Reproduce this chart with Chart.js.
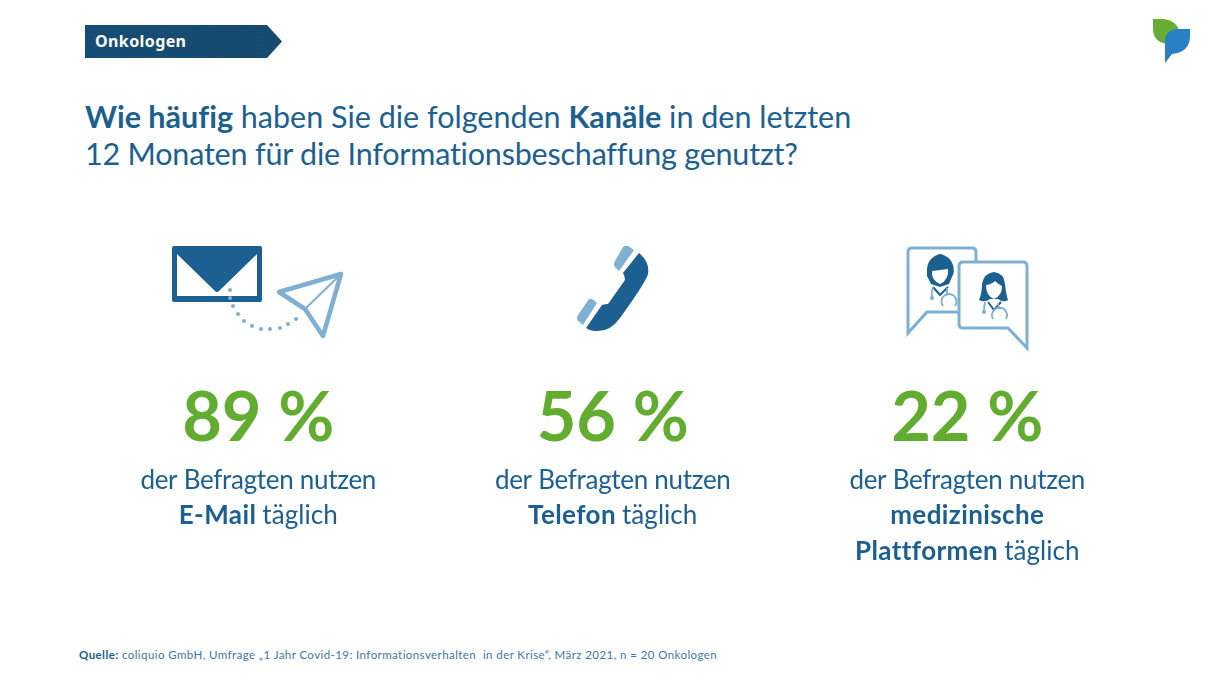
<!DOCTYPE html>
<html lang="de">
<head>
<meta charset="utf-8">
<title>Onkologen</title>
<script src="https://cdn.jsdelivr.net/npm/chart.js@4/dist/chart.umd.min.js"></script>
<style>
    html, body { margin: 0; padding: 0; background: #fff; }
    .page { position: relative; width: 1210px; height: 680px; overflow: hidden; font-family: Lato, sans-serif; color: #1c6092; font-variant-ligatures: none; }
    .page svg, .page canvas { position: absolute; left: 0; top: 0; }
    .tag { position: absolute; left: 95px; top: 30px; font: 700 16px/23px "Noto Sans", sans-serif; letter-spacing: .4px; color: #fff; }
    .title { position: absolute; left: 85px; top: 98px; font-size: 30.500px; line-height: 37px; white-space: nowrap; }
    .title span { letter-spacing: -.2px; }
    .source { position: absolute; left: 79px; top: 647px; font-size: 11.500px; line-height: 16px; letter-spacing: .42px; white-space: pre; color: #3b78aa; }
    .source b { color: #1c6092; }
</style>
</head>
<body>
<div class="page">
    <svg width="1210" height="680" viewBox="0 0 1210 680">
        <defs>
            <linearGradient id="tagFill" x1="0" x2="1" y1="0" y2="0">
                <stop offset="0" stop-color="#164d76"/>
                <stop offset="1" stop-color="#174a6e"/>
            </linearGradient>
        </defs>
        <!-- tag -->
        <path d="M85 25H267L282 41.500L267 58H85Z" fill="url(#tagFill)"/>
        <!-- logo -->
        <path d="M1153 19H1164Q1177 21 1179 31L1166 44Q1153 41 1153 29Z" fill="#68ad33"/>
        <path d="M1190 29H1176Q1165 31 1165 41V63L1172 54Q1190 52 1190 36Z" fill="#2a80c4"/>
        <!-- mail -->
        <path fill-rule="evenodd" d="M174 246H260Q262 246 262 248V300Q262 302 260 302H174Q172 302 172 300V248Q172 246 174 246ZM177 254V296H257V254L219 291Q217 293 215 291Z" fill="#1c6092"/>
        <g fill="#7fb0d4">
            <circle cx="230" cy="290" r="2"/><circle cx="230" cy="298" r="2"/><circle cx="233" cy="306" r="2"/>
            <circle cx="238" cy="314" r="2"/><circle cx="244" cy="321" r="2"/><circle cx="252" cy="326" r="2"/>
            <circle cx="261" cy="329" r="2"/><circle cx="270" cy="329" r="2"/><circle cx="280" cy="328" r="2"/>
            <circle cx="288" cy="324" r="2"/><circle cx="296" cy="319" r="2"/>
        </g>
        <path d="M279 292L341 274L323 336L305 309Z" fill="none" stroke="#7fb0d4" stroke-width="4.500" stroke-linejoin="round"/>
        <path d="M305 309L341 274" fill="none" stroke="#7fb0d4" stroke-width="2"/>
        <!-- phone -->
        <path d="M639 253Q650 262 648 274Q646 282 620 318Q610 332 596 331Q590 331 586 328L602 305Q605 304 608 304L625 280Q625 276 623 273Z" fill="#1c6092"/>
        <path d="M634 250L628 246Q625 245 623 247L615 261Q613 265 615 267L619 271Z" fill="#7fb0d4"/>
        <path d="M597 303L592 299Q589 298 587 302L578 315Q576 318 578 321L583 325Z" fill="#7fb0d4"/>
        <!-- chat -->
        <path d="M912 248H972Q976 248 976 252V312H927L908 333V252Q908 248 912 248Z" fill="#fff" stroke="#7fb0d4" stroke-width="3"/>
        <path d="M963 262H1023Q1027 262 1027 266V348L1008 328H963Q959 328 959 324V266Q959 262 963 262Z" fill="#fff" stroke="#7fb0d4" stroke-width="3"/>
        <!-- doctor left -->
        <path d="M940 254Q950 256 953 265Q955 272 952 277L949 284L940 287L931 284L927 276Q926 264 931 259Q935 255 940 254Z" fill="#1c6092"/>
        <path d="M932 271Q940 270 948 269Q949 280 940 284Q931 280 932 271Z" fill="#fff"/>
        <path d="M933 287L940 295L948 287" fill="none" stroke="#1c6092" stroke-width="2"/>
        <path d="M933 287Q931 292 932 297M947 288V294M943 306A7.500 7.500 0 1 1 955 306" fill="none" stroke="#7fb0d4" stroke-width="1.800"/>
        <circle cx="932" cy="298" r="2" fill="#7fb0d4"/>
        <!-- doctor right -->
        <path d="M994 272Q1004 273 1005 284Q1006 294 1008 300Q1003 303 998 299H990Q985 303 979 300Q982 293 982 284Q984 273 994 272Z" fill="#1c6092"/>
        <path d="M986 285Q992 284 995 281Q999 285 1002 286Q1002 296 994 299Q986 296 986 285Z" fill="#fff"/>
        <path d="M988 302L994 310L1001 302" fill="none" stroke="#1c6092" stroke-width="2"/>
        <path d="M985 302Q984 307 984 311M998 303L999 309M993 319A7.500 7.500 0 1 1 1006 319" fill="none" stroke="#7fb0d4" stroke-width="1.800"/>
        <circle cx="984" cy="312" r="2" fill="#7fb0d4"/>
    </svg>

    <div class="tag">Onkologen</div>
    <div class="title"><b>Wie häufig</b> haben Sie die folgenden <b>Kanäle</b> in den letzten<br><span>12 Monaten für die Informationsbeschaffung genutzt?</span></div>
    <div class="source"><b>Quelle:</b> coliquio GmbH, Umfrage „1 Jahr Covid-19: Informationsverhalten  in der Krise“, März 2021, n = 20 Onkologen</div>

    <canvas id="myChart" width="1210" height="680"></canvas>
</div>

<script>
const channels = ['E-Mail', 'Telefon', 'medizinische Plattformen'];
const shares = [89, 56, 22];
const captionLead = 'der Befragten nutzen';
const captionKeys = [['E-Mail'], ['Telefon'], ['medizinische', 'Plattformen']];
const captionTail = 'täglich';

const blue = '#1c6092';
const green = '#62ac30';
const fontName = 'Lato, sans-serif';

// one centred line, bold part first then the normal part
function drawRuns(ctx, x, y, bold, normal) {
    const boldFont = '700 26px ' + fontName;
    const normalFont = '400 26px ' + fontName;
    // small spacing also switches off the Lato ligatures
    ctx.letterSpacing = '0.4px';
    ctx.font = boldFont;
    const boldW = bold ? ctx.measureText(bold).width : 0;
    const gap = bold && normal ? 6 : 0;
    ctx.letterSpacing = bold ? '0.05px' : '-0.3px';
    ctx.font = normalFont;
    const normalW = normal ? ctx.measureText(normal).width : 0;
    let left = x - (boldW + gap + normalW) / 2;
    ctx.textAlign = 'left';
    ctx.fillStyle = blue;
    if (bold) {
        ctx.letterSpacing = '0.4px';
        ctx.font = boldFont;
        ctx.fillText(bold, left, y);
        left += boldW + gap;
    }
    if (normal) {
        ctx.letterSpacing = bold ? '0.05px' : '-0.3px';
        ctx.font = normalFont;
        ctx.fillText(normal, left, y);
    }
    ctx.letterSpacing = '0px';
}

// the three figures and their captions, placed on the category scale
const figureLabels = {
    id: 'figureLabels',
    afterDatasetsDraw(chart) {
        const ctx = chart.ctx;
        const meta = chart.getDatasetMeta(0);
        ctx.save();
        ctx.textBaseline = 'alphabetic';
        shares.forEach((share, i) => {
            const x = meta.data[i].x;
            ctx.textAlign = 'center';
            ctx.fillStyle = green;
            ctx.font = '700 68.5px ' + fontName;
            ctx.fillText(share + ' %', x, 441);
            drawRuns(ctx, x, 489, '', captionLead);
            const keys = captionKeys[i];
            keys.forEach((key, k) => {
                const last = k === keys.length - 1;
                drawRuns(ctx, x, 524 + k * 35.500, key, last ? captionTail : '');
            });
        });
        ctx.restore();
    }
};

const myChart = new Chart(document.getElementById('myChart'), {
    type: 'bar',
    data: {
        labels: channels,
        datasets: [{
            label: 'täglich',
            data: shares,
            backgroundColor: 'transparent',
            borderWidth: 0,
        }]
    },
    options: {
        responsive: false,
        animation: false,
        events: [],
        layout: { padding: { left: 81, right: 65.500, top: 0, bottom: 0 } },
        scales: {
            x: { display: false },
            y: { display: false, min: 0, max: 100 },
        },
        plugins: {
            legend: { display: false },
            tooltip: { enabled: false },
        }
    },
    plugins: [figureLabels]
});
</script>
</body>
</html>
